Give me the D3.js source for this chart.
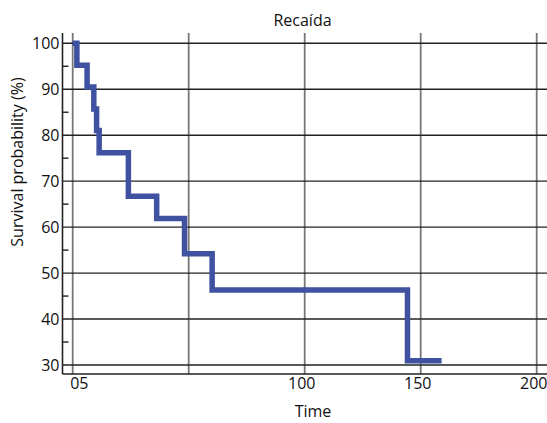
<!DOCTYPE html>
<html><head><meta charset="utf-8">
<script src="https://cdn.jsdelivr.net/npm/d3@7"></script>
<style>
html,body{margin:0;padding:0;background:#fff;}
svg{display:block;font-family:"Open Sans",sans-serif;}
</style></head>
<body><svg id="c" width="547" height="423"></svg>
<script>
// Kaplan-Meier step data
const times = [0, 1.8, 6.2, 9.1, 10.3, 11.4, 24.0, 36.2, 48.2, 60.1, 144.3, 159.0];
const survival = [100, 95.2, 90.5, 85.7, 81.0, 76.2, 66.7, 61.9, 54.2, 46.3, 30.9, 30.9];
const xTicks = [0, 50, 100, 150, 200];
const xTickLabels = ["05", "", "100", "150", "200"];
const yTicks = [30, 40, 50, 60, 70, 80, 90, 100];
const yMinorTicks = [35, 45, 55, 65, 75, 85, 95];
const title = "Recaída";
const xTitle = "Time";
const yTitle = "Survival probability (%)";

const svg = d3.select("#c");
const frame = {left: 62.5, right: 547, top: 33, bottom: 374};
const x = d3.scaleLinear().domain([0, 200]).range([72.7, 536.7]);
const y = d3.scaleLinear().domain([30, 100]).range([365, 43.3]);

// vertical gridlines
svg.append("g").selectAll("line").data(xTicks).join("line")
  .attr("x1", d => x(d)).attr("x2", d => x(d))
  .attr("y1", frame.top).attr("y2", frame.bottom)
  .attr("stroke", "#777").attr("stroke-width", 1.8);

// horizontal gridlines
svg.append("g").selectAll("line").data(yTicks).join("line")
  .attr("x1", frame.left).attr("x2", frame.right)
  .attr("y1", d => y(d)).attr("y2", d => y(d))
  .attr("stroke", "#222").attr("stroke-width", 1.4);

// minor ticks
svg.append("g").selectAll("line").data(yMinorTicks).join("line")
  .attr("x1", frame.left).attr("x2", frame.left + 6)
  .attr("y1", d => y(d)).attr("y2", d => y(d))
  .attr("stroke", "#222").attr("stroke-width", 1.4);

// axis lines
svg.append("line").attr("x1", frame.left).attr("x2", frame.left)
  .attr("y1", frame.top).attr("y2", frame.bottom)
  .attr("stroke", "#222").attr("stroke-width", 1.6);
svg.append("line").attr("x1", frame.left).attr("x2", frame.right)
  .attr("y1", frame.bottom).attr("y2", frame.bottom)
  .attr("stroke", "#222").attr("stroke-width", 1.6);

// y tick labels
const yAxis = d3.axisLeft(y).tickValues(yTicks).tickSize(0).tickPadding(0).tickFormat(d3.format("d"));
const gy = svg.append("g").attr("transform", `translate(${frame.left - 3},0)`).call(yAxis);
gy.select(".domain").remove();
gy.selectAll("text").attr("font-size", 16).attr("fill", "#111")
  .attr("font-family", "'Open Sans',sans-serif");

// x tick labels
const xAxis = d3.axisBottom(x).tickValues(xTicks).tickSize(0).tickPadding(0)
  .tickFormat((d, i) => xTickLabels[i]);
const gx = svg.append("g").attr("transform", `translate(0,${frame.bottom + 4})`).call(xAxis);
gx.select(".domain").remove();
gx.selectAll("text").attr("font-size", 16).attr("fill", "#111")
  .attr("font-family", "'Open Sans',sans-serif")
  .attr("dx", (d, i) => i === 0 ? -3 : -3.5)
  .attr("text-anchor", (d, i) => i === 0 ? "start" : "middle");

// step curve
const line = d3.line().x((d, i) => x(times[i])).y(d => y(d)).curve(d3.curveStepAfter);
svg.append("path").datum(survival).attr("d", line)
  .attr("fill", "none").attr("stroke", "#3f51a1").attr("stroke-width", 5.5)
  .attr("stroke-linejoin", "miter").attr("stroke-linecap", "butt");

// titles
svg.append("text").attr("x", 302.5).attr("y", 26).attr("text-anchor", "middle")
  .attr("font-size", 16).attr("fill", "#111").text(title);
svg.append("text").attr("x", 313).attr("y", 417).attr("text-anchor", "middle")
  .attr("font-size", 16).attr("fill", "#111").text(xTitle);
svg.append("text").attr("transform", "translate(23,162) rotate(-90)").attr("text-anchor", "middle")
  .attr("font-size", 16).attr("fill", "#111").text(yTitle);
</script>
</body></html>
